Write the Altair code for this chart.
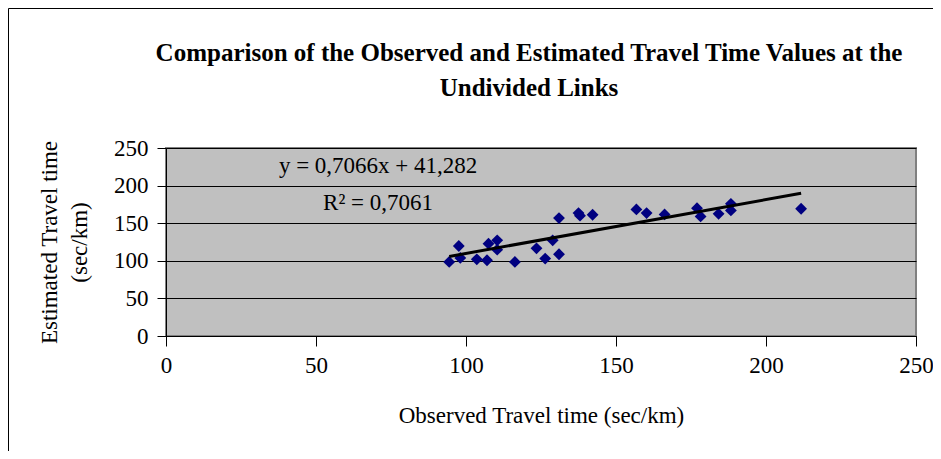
import altair as alt
import pandas as pd

observed = [94.4, 97.6, 98.1, 103.6, 107.0, 107.5, 110.4, 110.4, 116.3, 123.5,
            126.4, 128.9, 131.0, 131.0, 137.5, 138.0, 142.2, 156.8, 160.2, 166.2,
            177.0, 178.2, 184.2, 188.3, 188.3, 211.7]
estimated = [98.5, 119.7, 103.8, 102.0, 100.7, 122.8, 127.2, 114.8, 98.5, 116.6,
             102.9, 127.2, 108.7, 156.8, 163.5, 160.0, 161.2, 168.3, 163.4, 161.7,
             170.0, 159.0, 162.5, 175.8, 167.0, 169.2]

eq_text = ["y = 0,7066x + 41,282", "R\u00b2 = 0,7061"]
eq_x = [70.7, 70.7]
eq_y = [216.5, 167.0]

title_lines = ["Comparison of the Observed and Estimated Travel Time Values at the", "Undivided Links"]

df = pd.DataFrame({"x": observed, "y": estimated})
ann = pd.DataFrame({"t": eq_text, "x": eq_x, "y": eq_y})

FONT = "Liberation Serif"
TICKS = [0, 50, 100, 150, 200, 250]

xs = alt.X("x:Q", scale=alt.Scale(domain=[0, 250], nice=False),
           axis=alt.Axis(values=TICKS, title="Observed Travel time (sec/km)",
                         grid=False, tickSize=10, labelPadding=8, titlePadding=27,
                         domainColor="black", tickColor="black", labelOverlap=False))
ys = alt.Y("y:Q", scale=alt.Scale(domain=[0, 250], nice=False),
           axis=alt.Axis(values=TICKS, title=["Estimated Travel time", "(sec/km)"],
                         grid=True, gridColor="black", gridWidth=1, tickSize=9, labelPadding=9,
                         titlePadding=22, domainColor="black", tickColor="black", labelOverlap=False))

points = alt.Chart(df).mark_point(shape="diamond", filled=True, color="#000080", size=140, opacity=1).encode(
    x=xs, y=ys)

line = alt.Chart(df).transform_regression("x", "y").mark_line(color="black", strokeWidth=3).encode(
    x=xs, y=ys)

text = alt.Chart(ann).mark_text(font=FONT, fontSize=23, baseline="alphabetic", align="center", color="black").encode(
    x=xs, y=ys, text="t:N")

border = alt.Chart(alt.Data(values=[{}])).mark_rect(fill=None, stroke="black", strokeWidth=1).encode(
    x=alt.value(-157.5), x2=alt.value(772), y=alt.value(-139.5), y2=alt.value(330))

title1 = alt.Chart(alt.Data(values=[{"t": title_lines[0]}])).mark_text(
    font=FONT, fontSize=25, fontWeight="bold", align="center", baseline="alphabetic", color="black").encode(
    x=alt.value(363), y=alt.value(-87), text="t:N")
title2 = alt.Chart(alt.Data(values=[{"t": title_lines[1]}])).mark_text(
    font=FONT, fontSize=25, fontWeight="bold", align="center", baseline="alphabetic", color="black").encode(
    x=alt.value(363), y=alt.value(-52), text="t:N")

chart = alt.layer(border, points, line, text, title1, title2).properties(
    width=750, height=188,
    autosize=alt.AutoSizeParams(type="none"),
    padding={"left": 158, "top": 140, "right": 17, "bottom": 115},
).configure_view(fill="#C0C0C0", stroke="#808080", strokeWidth=2).configure_axis(
    labelFont=FONT, labelFontSize=23, labelColor="black", titleFont=FONT, titleFontSize=23,
    titleColor="black", titleFontWeight="normal", labelFlush=False, titleLineHeight=30
)

chart.save("out.html", embed_options={"renderer": "svg", "actions": False})
